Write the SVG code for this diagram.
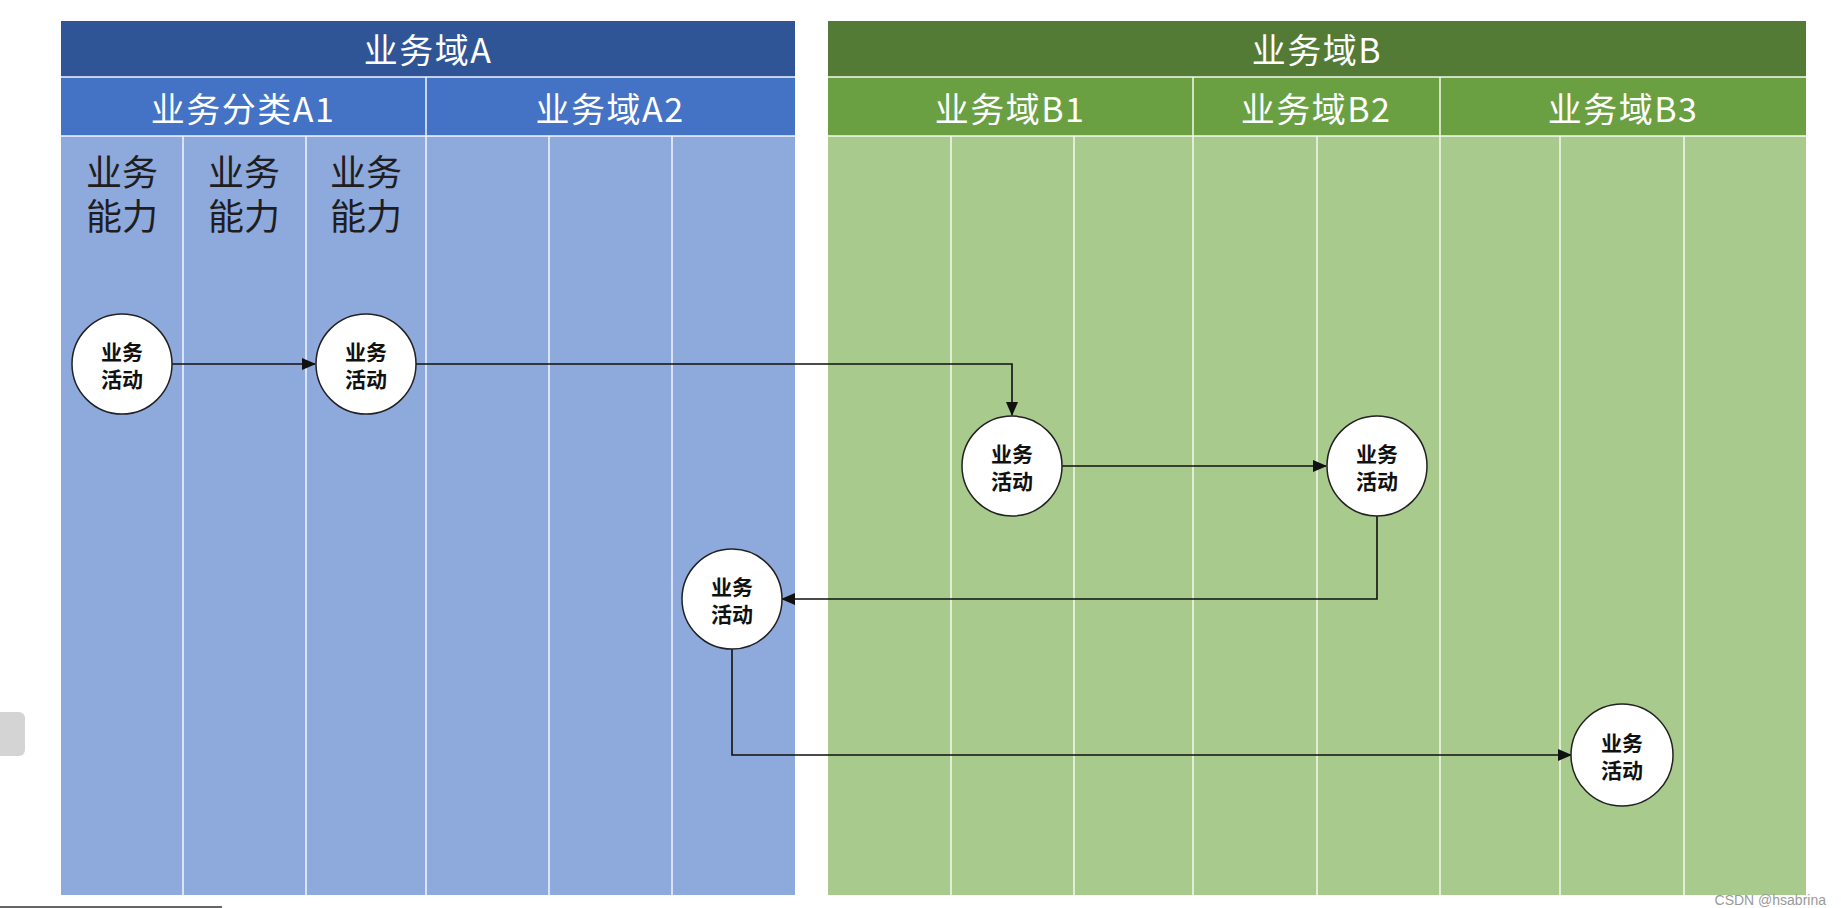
<svg xmlns="http://www.w3.org/2000/svg" width="1841" height="908" viewBox="0 0 1841 908">
<style>
.h1{font-family:"Noto Sans CJK SC","Noto Sans",sans-serif;font-size:34px;letter-spacing:1.5px;fill:#fff;text-anchor:middle}
.cap{font-family:"Noto Sans CJK SC","Noto Sans",sans-serif;font-size:36px;fill:#1e1e1e;text-anchor:middle}
.nt{font-family:"Noto Sans CJK SC","Noto Sans",sans-serif;font-size:21px;font-weight:bold;fill:#111;text-anchor:middle}
.div{stroke:#f2f6ff;stroke-width:1.5}
.divg{stroke:#f4faee;stroke-width:1.5}
.node{fill:#fff;stroke:#222;stroke-width:1.5}
.conn{fill:none;stroke:#111;stroke-width:1.6}
</style>
<defs>
<marker id="arr" markerWidth="14" markerHeight="12" refX="13" refY="6" orient="auto" markerUnits="userSpaceOnUse">
<path d="M0,0 L14,6 L0,12 Z" fill="#111"/>
</marker>
</defs>
<rect width="1841" height="908" fill="#fff"/>

<g id="domainA">
<rect x="61" y="21" width="734" height="56" fill="#2F5597"/>
<rect x="61" y="77" width="734" height="59" fill="#4472C4"/>
<rect x="61" y="136" width="734" height="759" fill="#8EA9DB"/>
<line x1="61" y1="77" x2="795" y2="77" class="div"/>
<line x1="61" y1="136" x2="795" y2="136" class="div"/>
<line x1="426" y1="77" x2="426" y2="895" class="div"/>
<line x1="183" y1="136" x2="183" y2="895" class="div"/>
<line x1="306" y1="136" x2="306" y2="895" class="div"/>
<line x1="549" y1="136" x2="549" y2="895" class="div"/>
<line x1="672" y1="136" x2="672" y2="895" class="div"/>
<text x="428" y="63" class="h1">业务域A</text>
<text x="243" y="122" class="h1">业务分类A1</text>
<text x="610" y="122" class="h1">业务域A2</text>
<text x="122" y="186" class="cap">业务</text>
<text x="122" y="230" class="cap">能力</text>
<text x="244" y="186" class="cap">业务</text>
<text x="244" y="230" class="cap">能力</text>
<text x="366" y="186" class="cap">业务</text>
<text x="366" y="230" class="cap">能力</text>
</g>

<g id="domainB">
<rect x="828" y="21" width="978" height="56" fill="#537B35"/>
<rect x="828" y="77" width="978" height="59" fill="#6AA041"/>
<rect x="828" y="136" width="978" height="759" fill="#A8CA8C"/>
<line x1="828" y1="77" x2="1806" y2="77" class="divg"/>
<line x1="828" y1="136" x2="1806" y2="136" class="divg"/>
<line x1="1193" y1="77" x2="1193" y2="895" class="divg"/>
<line x1="1440" y1="77" x2="1440" y2="895" class="divg"/>
<line x1="951" y1="136" x2="951" y2="895" class="divg"/>
<line x1="1074" y1="136" x2="1074" y2="895" class="divg"/>
<line x1="1317" y1="136" x2="1317" y2="895" class="divg"/>
<line x1="1560" y1="136" x2="1560" y2="895" class="divg"/>
<line x1="1684" y1="136" x2="1684" y2="895" class="divg"/>
<text x="1317" y="63" class="h1">业务域B</text>
<text x="1010" y="122" class="h1">业务域B1</text>
<text x="1316" y="122" class="h1">业务域B2</text>
<text x="1623" y="122" class="h1">业务域B3</text>
</g>

<g id="connectors">
<path class="conn" d="M172,364 H315" marker-end="url(#arr)"/>
<path class="conn" d="M416,364 H1012 V415" marker-end="url(#arr)"/>
<path class="conn" d="M1062,466 H1326" marker-end="url(#arr)"/>
<path class="conn" d="M1377,516 V599 H782" marker-end="url(#arr)"/>
<path class="conn" d="M732,649 V755 H1571" marker-end="url(#arr)"/>
</g>

<g id="n1"><circle cx="122" cy="364" r="50" class="node"/><text x="122" y="360" class="nt">业务</text><text x="122" y="387" class="nt">活动</text></g>
<g id="n2"><circle cx="366" cy="364" r="50" class="node"/><text x="366" y="360" class="nt">业务</text><text x="366" y="387" class="nt">活动</text></g>
<g id="n3"><circle cx="1012" cy="466" r="50" class="node"/><text x="1012" y="462" class="nt">业务</text><text x="1012" y="489" class="nt">活动</text></g>
<g id="n4"><circle cx="1377" cy="466" r="50" class="node"/><text x="1377" y="462" class="nt">业务</text><text x="1377" y="489" class="nt">活动</text></g>
<g id="n5"><circle cx="732" cy="599" r="50" class="node"/><text x="732" y="595" class="nt">业务</text><text x="732" y="622" class="nt">活动</text></g>
<g id="n6"><circle cx="1622" cy="755" r="51" class="node"/><text x="1622" y="751" class="nt">业务</text><text x="1622" y="778" class="nt">活动</text></g>

<rect x="-10" y="712" width="35" height="44" rx="6" fill="#d4d4d4"/>
<line x1="0" y1="907" x2="222" y2="907" stroke="#333" stroke-width="1.5"/>
<text x="1826" y="905" text-anchor="end" font-family="Liberation Sans,sans-serif" font-size="14" fill="#9a9a9a">CSDN @hsabrina</text>
</svg>
